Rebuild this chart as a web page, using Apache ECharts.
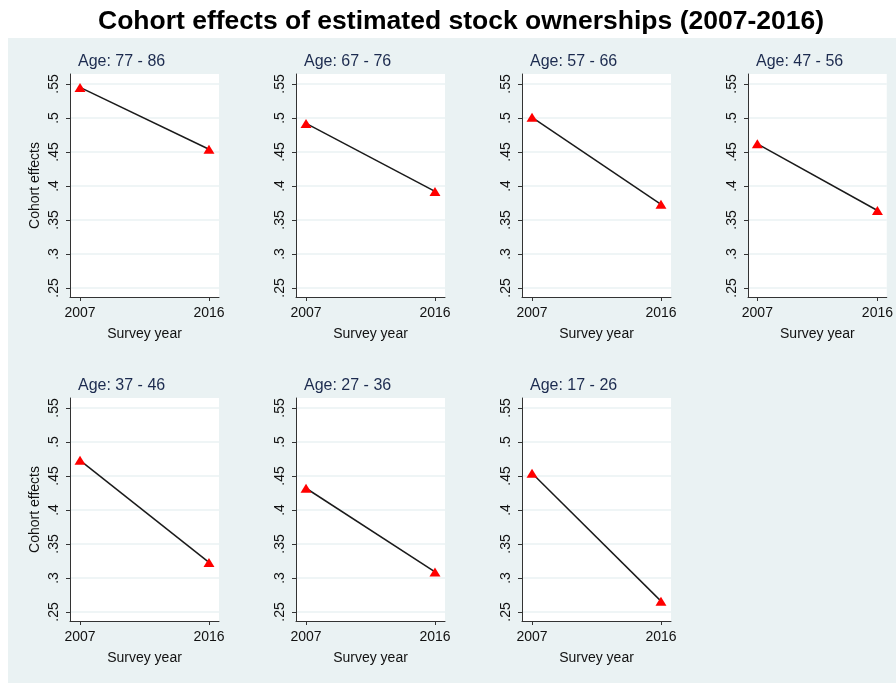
<!DOCTYPE html>
<html>
<head>
<meta charset="utf-8">
<script src="https://cdn.jsdelivr.net/npm/echarts@6/dist/echarts.min.js"></script>
<style>
  html, body { margin: 0; padding: 0; background: #fff; }
  #chart { width: 896px; height: 683px; }
</style>
</head>
<body>
<div id="chart"></div>
<script>
// panel titles (cohorts)
var cohorts = ['Age: 77 - 86', 'Age: 67 - 76', 'Age: 57 - 66', 'Age: 47 - 56',
               'Age: 37 - 46', 'Age: 27 - 36', 'Age: 17 - 26'];
var years = [2007, 2016];
// cohort effects
var effects2007 = [0.545, 0.492, 0.501, 0.462, 0.473, 0.432, 0.454];
var effects2016 = [0.454, 0.392, 0.373, 0.364, 0.323, 0.309, 0.266];
// tick values and labels
var yTicks = [0.25, 0.3, 0.35, 0.4, 0.45, 0.5, 0.55];
var yTickLabels = ['.25', '.3', '.35', '.4', '.45', '.5', '.55'];
var xTickLabels = ['2007', '2016'];

var font = 'Liberation Sans, Arial, Helvetica, sans-serif';
var colLeft = [70, 296, 522, 748];
var rowTop = [74, 398];
var plotW = 149, plotH = 223;

var grids = [], xAxes = [], yAxes = [], series = [];
var titles = [{
    text: 'Cohort effects of estimated stock ownerships (2007-2016)',
    left: 461,
    textAlign: 'center',
    top: 8,
    padding: 0,
    textStyle: { fontFamily: font, fontSize: 26.5, fontWeight: 'bold', color: '#000' }
}];

for (var i = 0; i < cohorts.length; i++) {
    var col = i % 4, row = Math.floor(i / 4);
    grids.push({
        left: colLeft[col], top: rowTop[row], width: plotW, height: plotH,
        show: true, backgroundColor: '#fff', borderWidth: 0
    });
    titles.push({
        text: cohorts[i],
        left: colLeft[col] + 8,
        top: rowTop[row] - 20,
        padding: 0,
        textStyle: { fontFamily: font, fontSize: 16, fontWeight: 'normal', color: '#1c2b4f' }
    });
    xAxes.push({
        type: 'value', gridIndex: i,
        min: 2006.3, max: 2016.7,
        name: 'Survey year', nameLocation: 'middle', nameGap: 30,
        nameTextStyle: { fontFamily: font, fontSize: 14, color: '#111' },
        axisLine: { show: true, lineStyle: { color: '#333', width: 1 } },
        axisTick: { show: true, length: 4, customValues: years, lineStyle: { color: '#333' } },
        axisLabel: {
            customValues: years, margin: 9,
            fontFamily: font, fontSize: 14, color: '#111',
            formatter: function (v) { return xTickLabels[years.indexOf(v)]; }
        },
        splitLine: { show: false }
    });
    yAxes.push({
        type: 'value', gridIndex: i,
        min: 0.2368, max: 0.5647,
        name: col === 0 ? 'Cohort effects' : '',
        nameLocation: 'middle', nameGap: 28,
        nameTextStyle: { fontFamily: font, fontSize: 14, color: '#111' },
        axisLine: { show: true, lineStyle: { color: '#333', width: 1 } },
        axisTick: { show: true, length: 4, customValues: yTicks, lineStyle: { color: '#333' } },
        axisLabel: {
            customValues: yTicks, rotate: 90, margin: 9,
            fontFamily: font, fontSize: 14, color: '#111',
            formatter: function (v) {
                for (var k = 0; k < yTicks.length; k++) {
                    if (Math.abs(yTicks[k] - v) < 1e-9) return yTickLabels[k];
                }
                return '';
            }
        },
        splitLine: { show: true, customValues: yTicks, lineStyle: { color: '#eaf2f3', width: 1.5 } }
    });
    series.push({
        type: 'line', xAxisIndex: i, yAxisIndex: i,
        data: [[years[0], effects2007[i]], [years[1], effects2016[i]]],
        symbol: 'triangle', symbolSize: [11, 9],
        lineStyle: { color: '#1a1a1a', width: 1.5 },
        itemStyle: { color: '#f00' },
        z: 3, animation: false
    });
}

var chart = echarts.init(document.getElementById('chart'));
chart.setOption({
    animation: false,
    backgroundColor: '#fff',
    graphic: [{
        type: 'rect', z: -10, silent: true,
        shape: { x: 8, y: 38, width: 888, height: 645 },
        style: { fill: '#eaf2f3' }
    }],
    title: titles,
    grid: grids,
    xAxis: xAxes,
    yAxis: yAxes,
    series: series
});
</script>
</body>
</html>
